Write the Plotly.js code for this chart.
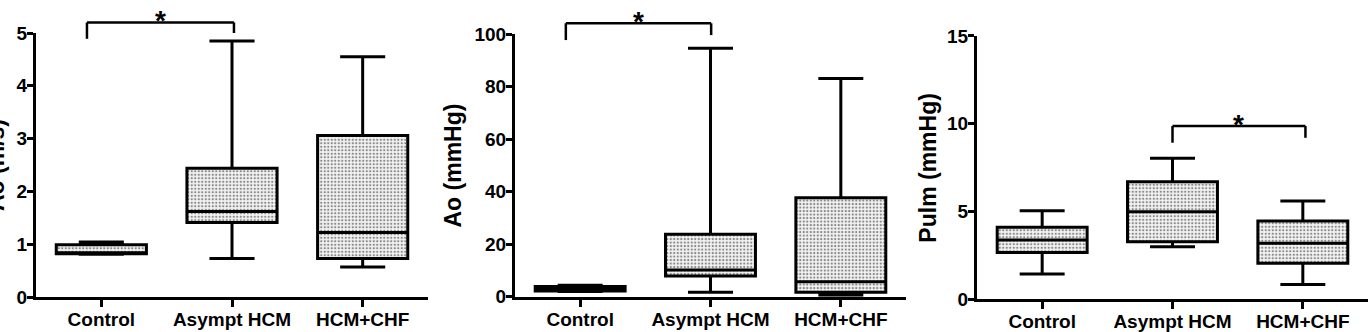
<!DOCTYPE html>
<html><head><meta charset="utf-8">
<script src="https://cdn.plot.ly/plotly-3.0.1.min.js"></script>
<style>html,body{margin:0;padding:0;background:#fff}#chart{width:1372px;height:332px}</style>
</head><body><div id="chart"></div>
<script>
const categories = ['Control', 'Asympt HCM', 'HCM+CHF'];

// Panel 1: Ao (m/s)
const velMin    = [0.81, 0.73, 0.57];
const velQ1     = [0.82, 1.41, 0.73];
const velMedian = [0.84, 1.62, 1.22];
const velQ3     = [0.99, 2.44, 3.06];
const velMax    = [1.04, 4.85, 4.55];

// Panel 2: Ao (mmHg)
const aoMin    = [2.0, 1.7, 0.6];
const aoQ1     = [2.2, 7.9, 1.7];
const aoMedian = [3.0, 10.2, 5.7];
const aoQ3     = [3.9, 23.8, 37.7];
const aoMax    = [4.4, 94.7, 83.2];

// Panel 3: Pulm (mmHg)
const pulmMin    = [1.44, 3.0, 0.85];
const pulmQ1     = [2.66, 3.28, 2.05];
const pulmMedian = [3.38, 4.99, 3.19];
const pulmQ3     = [4.1, 6.7, 4.46];
const pulmMax    = [5.05, 8.03, 5.6];

const yTitles = ['Ao (m/s)', 'Ao (mmHg)', 'Pulm (mmHg)'];
const yMaxes  = [5, 100, 15];
const yDticks = [1, 20, 5];

// significance brackets (x in category index, y in data units)
const sigFrom      = [-0.11, -0.11, 1.0];
const sigTo        = [1.015, 1.005, 2.02];
const sigLeftEnd   = [4.89, 97.8, 8.92];
const sigTop       = [5.2, 104.2, 9.87];
const sigRightEnd  = [5.0, 99.7, 9.2];
const sigLabels    = ['*', '*', '*'];

const panels = [
  {min: velMin, q1: velQ1, med: velMedian, q3: velQ3, max: velMax},
  {min: aoMin, q1: aoQ1, med: aoMedian, q3: aoQ3, max: aoMax},
  {min: pulmMin, q1: pulmQ1, med: pulmMedian, q3: pulmQ3, max: pulmMax}
];

const W = 1372;
const xDomains = [[36 / W, 428 / W], [515 / W, 906 / W], [977 / W, 1368 / W]];
const yDomains = [[0.1054, 0.9006], [0.1063, 0.8967], [0.0985, 0.8916]];
const titleShift = [-40, -62, -49];
const FONT = 'Liberation Sans, Arial, Helvetica, sans-serif';
const BOXW = 0.69;

const data = [];
const layout = {
  width: 1372, height: 332,
  margin: {l: 0, r: 0, t: 0, b: 0},
  paper_bgcolor: '#fff', plot_bgcolor: 'rgba(0,0,0,0)',
  showlegend: false, barmode: 'overlay',
  font: {family: FONT, color: '#000'},
  shapes: [], annotations: []
};

panels.forEach((p, i) => {
  const sfx = i === 0 ? '' : String(i + 1);
  const xa = 'x' + sfx, ya = 'y' + sfx;
  // dotted fill of the boxes
  data.push({
    type: 'bar', x: categories, base: p.q1,
    y: p.q3.map((v, k) => v - p.q1[k]),
    width: BOXW, xaxis: xa, yaxis: ya, hoverinfo: 'skip',
    marker: {color: '#fff', line: {width: 0},
      pattern: {shape: '.', fgcolor: '#8a8a8a', bgcolor: '#f4f4f4', size: 3.5, solidity: 0.35}}
  });
  data.push({
    type: 'box', x: categories, q1: p.q1, median: p.med, q3: p.q3,
    lowerfence: p.min, upperfence: p.max,
    width: BOXW, whiskerwidth: 0.5, boxpoints: false,
    fillcolor: 'rgba(0,0,0,0)', line: {color: '#000', width: 3},
    xaxis: xa, yaxis: ya
  });
  layout['xaxis' + sfx] = {
    domain: xDomains[i], anchor: ya, type: 'category', range: [-0.5, 2.5],
    showline: true, linewidth: 3, linecolor: '#000',
    ticks: 'outside', ticklen: 7, tickwidth: 3, tickcolor: '#000', ticklabelstandoff: -4,
    showgrid: false, zeroline: false, automargin: false, fixedrange: true,
    tickfont: {family: FONT, size: 19, color: '#000', weight: 700}
  };
  layout['yaxis' + sfx] = {
    domain: yDomains[i], anchor: xa, range: [0, yMaxes[i]], dtick: yDticks[i], tick0: 0,
    showline: true, linewidth: 3, linecolor: '#000',
    ticks: 'outside', ticklen: 6, tickwidth: 3, tickcolor: '#000', ticklabelstandoff: -4,
    showgrid: false, zeroline: false, automargin: false, fixedrange: true,
    tickfont: {family: FONT, size: 19, color: '#000', weight: 700}
  };
  // y-axis title
  layout.annotations.push({
    xref: xa + ' domain', yref: ya + ' domain', x: 0, y: 0.5, xshift: titleShift[i],
    xanchor: 'center', yanchor: 'middle', textangle: -90, showarrow: false,
    text: yTitles[i], font: {family: FONT, size: 23, color: '#000', weight: 700}
  });
  // significance bracket
  const yr = ya + ' domain';
  const f = v => v / yMaxes[i];
  const ln = {color: '#000', width: 2.5};
  layout.shapes.push(
    {type: 'line', xref: xa, yref: yr, x0: sigFrom[i], x1: sigFrom[i], y0: f(sigLeftEnd[i]), y1: f(sigTop[i]), line: ln},
    {type: 'line', xref: xa, yref: yr, x0: sigFrom[i], x1: sigTo[i], y0: f(sigTop[i]), y1: f(sigTop[i]), line: ln},
    {type: 'line', xref: xa, yref: yr, x0: sigTo[i], x1: sigTo[i], y0: f(sigTop[i]), y1: f(sigRightEnd[i]), line: ln}
  );
  layout.annotations.push({
    xref: xa, yref: yr, x: (sigFrom[i] + sigTo[i]) / 2, y: f(sigTop[i]),
    text: sigLabels[i], showarrow: false, yanchor: 'middle', yshift: 2,
    font: {family: FONT, size: 28, color: '#000', weight: 700}
  });
});

Plotly.newPlot('chart', data, layout, {staticPlot: true, displayModeBar: false});
</script>
</body></html>
